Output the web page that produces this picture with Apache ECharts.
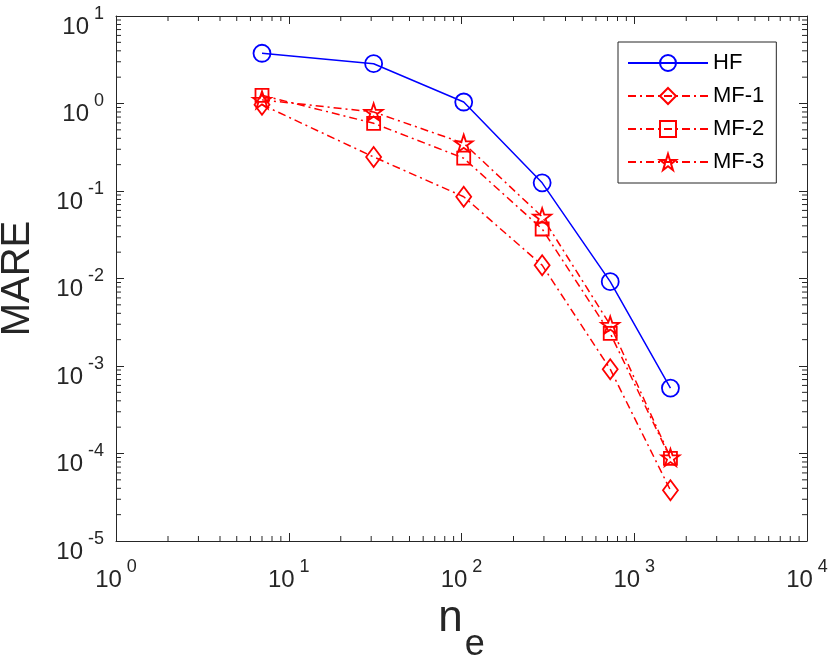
<!DOCTYPE html>
<html>
<head>
<meta charset="utf-8">
<script src="https://cdn.jsdelivr.net/npm/echarts@6/dist/echarts.min.js"></script>
<style>
  html, body { margin: 0; padding: 0; background: #fff; }
  #main { width: 830px; height: 657px; }
</style>
</head>
<body>
<div id="main"></div>
<script>
// data
var nE = [7, 31, 103, 293, 726, 1620];
var hf = [3.75, 2.85, 1.04, 0.124, 0.0092, 0.00056];
var mf1 = [0.97, 0.245, 0.086, 0.0142, 0.00092, 0.000038];
var mf2 = [1.24, 0.594, 0.237, 0.0368, 0.00236, 0.000088];
var mf3 = [1.10, 0.80, 0.351, 0.0508, 0.00294, 0.000090];
var seriesNames = ['HF', 'MF-1', 'MF-2', 'MF-3'];
var xDecades = [0, 1, 2, 3];      // minor ticks inside these decades
var yDecades = [-5, -4, -3, -2, -1, 0];
var minorSteps = [2, 3, 4, 5, 6, 7, 8, 9];

var FONT = 'Liberation Sans';
var AX = '#262626';
var BLUE = '#0000ff';
var RED = '#ff0000';
var STAR = 'path://M50 0 L61.8 36.2 L100 36.2 L69.1 58.5 L80.9 95 L50 72.6 L19.1 95 L30.9 58.5 L0 36.2 L38.2 36.2 Z';

var myChart = echarts.init(document.getElementById('main'));

function pairs(ys) {
    return nE.map(function (x, i) { return [x, ys[i]]; });
}

var minorX = [], minorY = [];
xDecades.forEach(function (k) {
    minorSteps.forEach(function (m) { minorX.push([m * Math.pow(10, k), 1]); });
});
yDecades.forEach(function (k) {
    minorSteps.forEach(function (m) { minorY.push([10, m * Math.pow(10, k)]); });
});

function powLabel(v) {
    var e = Math.round(Math.log(v) / Math.LN10);
    return '{b|10}{s|' + e + '}';
}

var labelRich = {
    b: { fontSize: 24, lineHeight: 34, fontFamily: FONT, color: AX, verticalAlign: 'bottom' },
    s: { fontSize: 18, lineHeight: 18, fontFamily: FONT, color: AX, verticalAlign: 'top', padding: [0, 0, 0, 5] }
};

var lineMark = function (name, data, color, symbol, size, dashed) {
    return {
        name: name,
        type: 'line',
        data: pairs(data),
        symbol: symbol,
        symbolSize: size,
        showAllSymbol: true,
        lineStyle: { color: color, width: 1.5, type: dashed ? [8, 4, 2, 4] : 'solid' },
        itemStyle: { color: 'rgba(0,0,0,0)', borderColor: color, borderWidth: 1.8 },
        emphasis: { disabled: true },
        animation: false,
        z: 3
    };
};

let option = {
    backgroundColor: '#fff',
    animation: false,
    grid: { left: 116, right: 23, top: 16, bottom: 116, outerBoundsMode: 'none', containLabel: false },
    legend: {
        orient: 'vertical',
        left: 618,
        top: 42,
        padding: [10, 12, 10, 9],
        itemWidth: 80,
        itemHeight: 20,
        itemGap: 11,
        borderColor: AX,
        borderWidth: 1,
        backgroundColor: '#fff',
        textStyle: { fontSize: 22, fontFamily: FONT, color: '#000' },
        data: seriesNames
    },
    xAxis: [
        {
            type: 'log', logBase: 10, min: 1, max: 10000, interval: 1,
            name: '{n|n}{e|e}',
            nameLocation: 'middle',
            nameGap: 56,
            nameTextStyle: {
                fontSize: 44, fontFamily: FONT, color: AX,
                rich: {
                    n: { fontSize: 44, lineHeight: 48, fontFamily: FONT, color: AX, verticalAlign: 'top' },
                    e: { fontSize: 36, lineHeight: 66, fontFamily: FONT, color: AX, verticalAlign: 'bottom', padding: [0, 0, 0, 2] }
                }
            },
            axisLine: { lineStyle: { color: AX, width: 1 } },
            axisTick: { inside: true, length: 8, lineStyle: { color: AX } },
            axisLabel: { margin: 17, formatter: powLabel, rich: labelRich },
            splitLine: { show: false }
        },
        {
            type: 'log', logBase: 10, min: 1, max: 10000, interval: 1, position: 'top',
            axisLine: { lineStyle: { color: AX, width: 1 } },
            axisTick: { inside: true, length: 8, lineStyle: { color: AX } },
            axisLabel: { show: false },
            splitLine: { show: false }
        }
    ],
    yAxis: [
        {
            type: 'log', logBase: 10, min: 0.00001, max: 10, interval: 1,
            name: 'MARE',
            nameLocation: 'middle',
            nameGap: 78,
            nameTextStyle: { fontSize: 40, fontFamily: FONT, color: AX },
            axisLine: { lineStyle: { color: AX, width: 1 } },
            axisTick: { inside: true, length: 8, lineStyle: { color: AX } },
            axisLabel: { margin: 12, padding: [12, 0, 0, 0], formatter: powLabel, rich: labelRich },
            splitLine: { show: false }
        },
        {
            type: 'log', logBase: 10, min: 0.00001, max: 10, interval: 1, position: 'right',
            axisLine: { lineStyle: { color: AX, width: 1 } },
            axisTick: { inside: true, length: 8, lineStyle: { color: AX } },
            axisLabel: { show: false },
            splitLine: { show: false }
        }
    ],
    series: [
        {
            type: 'custom',
            silent: true,
            data: minorX,
            renderItem: function (params, api) {
                var p = api.coord([api.value(0), 1]);
                var cs = params.coordSys;
                var st = { stroke: AX, lineWidth: 1 };
                return { type: 'group', children: [
                    { type: 'line', shape: { x1: p[0], y1: cs.y + cs.height, x2: p[0], y2: cs.y + cs.height - 5 }, style: st },
                    { type: 'line', shape: { x1: p[0], y1: cs.y, x2: p[0], y2: cs.y + 5 }, style: st }
                ] };
            },
            z: 1
        },
        {
            type: 'custom',
            silent: true,
            data: minorY,
            renderItem: function (params, api) {
                var p = api.coord([10, api.value(1)]);
                var cs = params.coordSys;
                var st = { stroke: AX, lineWidth: 1 };
                return { type: 'group', children: [
                    { type: 'line', shape: { x1: cs.x, y1: p[1], x2: cs.x + 5, y2: p[1] }, style: st },
                    { type: 'line', shape: { x1: cs.x + cs.width, y1: p[1], x2: cs.x + cs.width - 5, y2: p[1] }, style: st }
                ] };
            },
            z: 1
        },
        lineMark('HF', hf, BLUE, 'circle', 17, false),
        lineMark('MF-1', mf1, RED, 'diamond', [15, 20], true),
        lineMark('MF-2', mf2, RED, 'rect', 13, true),
        lineMark('MF-3', mf3, RED, STAR, [18, 17], true)
    ]
};

myChart.setOption(option);
</script>
</body>
</html>
